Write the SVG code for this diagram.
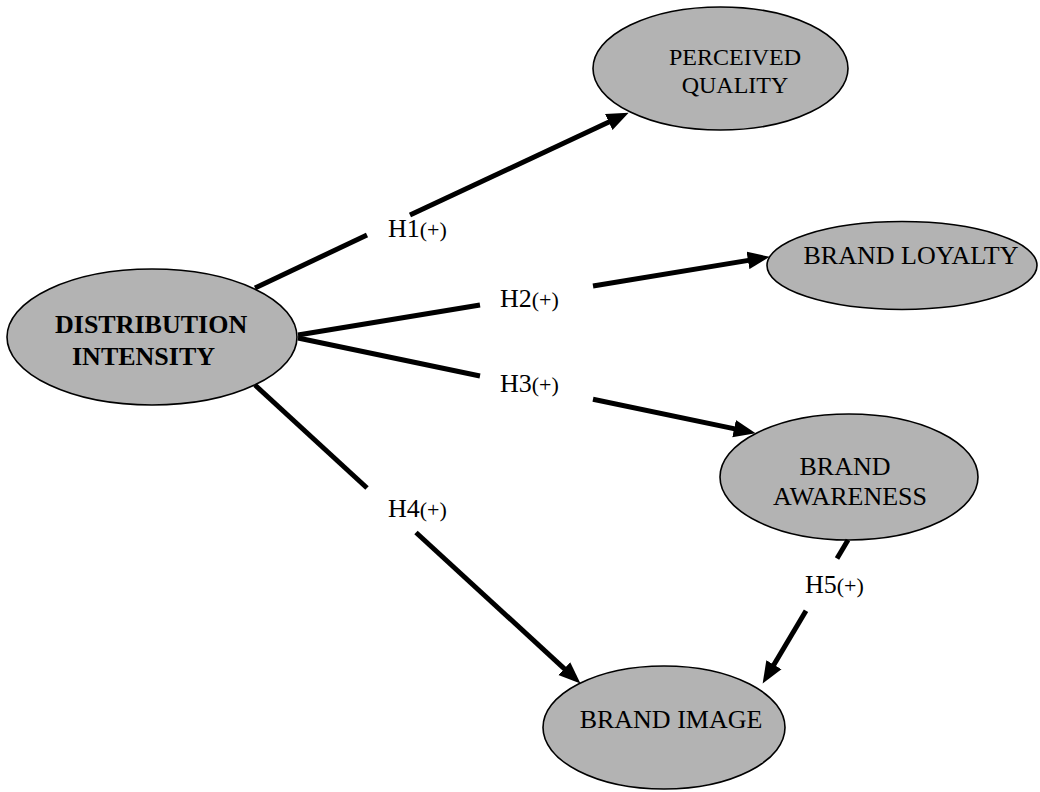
<svg xmlns="http://www.w3.org/2000/svg" width="1040" height="792" viewBox="0 0 1040 792">
<style>
.node ellipse{fill:#b3b3b3;stroke:#000;stroke-width:1.6}
.nt{font-family:"Liberation Serif","Times New Roman",serif;font-size:26px;fill:#000}
.b{font-weight:bold}
.edge line{stroke:#000;stroke-width:5;stroke-linecap:butt}
.lbl{font-family:"Liberation Serif","Times New Roman",serif;font-size:26px;fill:#000}
.sm{font-size:22px}
</style>
<defs>
<marker id="ah" markerUnits="userSpaceOnUse" markerWidth="22" markerHeight="18" viewBox="0 0 20 16" refX="13" refY="8" orient="auto">
<path d="M0,0 L20,8 L0,16 z" fill="#000"/>
</marker>
</defs>
<rect width="1040" height="792" fill="#fff"/>
<g id="n-di" class="node">
<ellipse cx="152" cy="337" rx="145" ry="68"/>
<text class="nt b" x="55" y="333">DISTRIBUTION</text>
<text class="nt b" x="72" y="365">INTENSITY</text>
</g>
<g id="n-pq" class="node">
<ellipse cx="720.5" cy="68.5" rx="127.5" ry="61.5"/>
<text class="nt" x="735" y="65" text-anchor="middle" style="font-size:24px">PERCEIVED</text>
<text class="nt" x="735" y="93" text-anchor="middle" style="font-size:24px">QUALITY</text>
</g>
<g id="n-bl" class="node">
<ellipse cx="902" cy="265.5" rx="135" ry="44"/>
<text class="nt" x="911" y="264" text-anchor="middle">BRAND LOYALTY</text>
</g>
<g id="n-ba" class="node">
<ellipse cx="849" cy="477" rx="129" ry="63"/>
<text class="nt" x="845" y="475" text-anchor="middle">BRAND</text>
<text class="nt" x="850" y="505" text-anchor="middle">AWARENESS</text>
</g>
<g id="n-bi" class="node">
<ellipse cx="664" cy="727.5" rx="121" ry="61.5"/>
<text class="nt" x="671" y="728" text-anchor="middle">BRAND IMAGE</text>
</g>
<g id="connectors" class="edge">
<line x1="255" y1="288" x2="367" y2="235"/>
<line x1="410" y1="215" x2="621.7" y2="116" marker-end="url(#ah)"/>
<line x1="298" y1="335" x2="480" y2="305"/>
<line x1="593" y1="286" x2="762.1" y2="258.1" marker-end="url(#ah)"/>
<line x1="298" y1="338" x2="480" y2="376"/>
<line x1="593" y1="399.3" x2="748.1" y2="431.6" marker-end="url(#ah)"/>
<line x1="255" y1="385" x2="367" y2="488"/>
<line x1="416" y1="532.5" x2="574.8" y2="678.3" marker-end="url(#ah)"/>
<line x1="848" y1="540" x2="837" y2="558.5"/>
<line x1="806" y1="610.7" x2="766.6" y2="677" marker-end="url(#ah)"/>
</g>
<g id="labels">
<text class="lbl" x="388" y="237">H1<tspan class="sm">(+)</tspan></text>
<text class="lbl" x="500" y="307">H2<tspan class="sm">(+)</tspan></text>
<text class="lbl" x="500" y="392">H3<tspan class="sm">(+)</tspan></text>
<text class="lbl" x="388" y="517">H4<tspan class="sm">(+)</tspan></text>
<text class="lbl" x="805" y="593">H5<tspan class="sm">(+)</tspan></text>
</g>
</svg>
